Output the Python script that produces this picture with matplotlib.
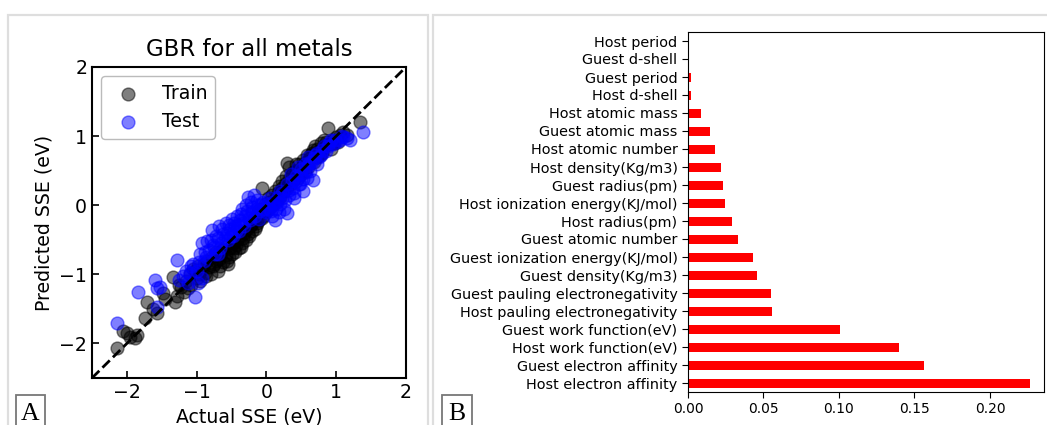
import matplotlib
matplotlib.use("Agg")
import matplotlib.pyplot as plt
from matplotlib.patches import Rectangle

# ---- panel A data: actual vs predicted SSE (eV) ----
train_x = [-2.14, -2.05, -2.00, -1.95, -1.88, -1.85, -1.74, -1.71, -1.62, -1.57,
           -1.48, -1.45, -1.34, -1.31, -1.28, -1.22, -1.18, -1.15, -1.10, -1.08,
           -1.02, -1.00, -0.98, -0.95, -0.92, -0.88, -0.85, -0.82, -0.80, -0.78,
           -0.75, -0.72, -0.70, -0.68, -0.65, -0.62, -0.60, -0.58, -0.55, -0.52,
           -0.50, -0.48, -0.45, -0.42, -0.40, -0.38, -0.35, -0.32, -0.30, -0.28,
           -0.25, -0.22, -0.20, -0.18, -0.15, -0.12, -0.10, -0.08, -0.06, -0.05,
           -0.02, 0.00, 0.02, 0.05, 0.08, 0.10, 0.12, 0.15, 0.18, 0.20,
           0.22, 0.25, 0.28, 0.29, 0.30, 0.32, 0.35, 0.38, 0.40, 0.42,
           0.45, 0.48, 0.50, 0.52, 0.55, 0.58, 0.60, 0.62, 0.65, 0.68,
           0.70, 0.72, 0.75, 0.78, 0.80, 0.82, 0.85, 0.88, 0.90, 0.95,
           1.00, 1.05, 1.10, 1.34,
           -1.25, -1.12, -1.05, -0.97, -0.90, -0.86, -0.77, -0.73, -0.66, -0.63,
           -0.57, -0.53, -0.47, -0.44, -0.37, -0.33, -0.27, -0.24, -0.17, -0.13,
           -0.07, -0.03, 0.03, 0.07, 0.13, 0.17, 0.23, 0.27, 0.33, 0.37,
           0.43, 0.47, 0.53, 0.57, 0.63, 0.67, 0.73, 0.77, 0.83, 0.92,
           0.97, 1.02, 1.15]
train_y = [-2.07, -1.82, -1.85, -1.90, -1.92, -1.88, -1.63, -1.40, -1.50, -1.56,
           -1.27, -1.35, -1.04, -1.40, -1.32, -1.18, -1.25, -1.10, -1.00, -1.15,
           -0.95, -1.05, -0.88, -1.10, -0.92, -0.98, -0.80, -0.90, -1.00, -0.75,
           -0.85, -0.68, -0.95, -0.78, -0.70, -0.82, -0.60, -0.72, -0.85, -0.62,
           -0.70, -0.55, -0.68, -0.50, -0.62, -0.45, -0.55, -0.40, -0.50, -0.35,
           -0.45, -0.28, -0.38, -0.20, -0.30, -0.10, -0.22, -0.05, 0.25, -0.15,
           0.02, -0.08, 0.10, -0.02, 0.15, 0.05, 0.20, 0.08, 0.28, 0.12,
           0.35, 0.20, 0.42, 0.61, 0.25, 0.55, 0.30, 0.48, 0.38, 0.60,
           0.40, 0.52, 0.45, 0.65, 0.50, 0.72, 0.55, 0.68, 0.75, 0.62,
           0.85, 0.70, 0.78, 0.90, 0.75, 0.85, 0.92, 1.12, 0.88, 0.95,
           0.98, 1.02, 1.06, 1.20,
           -1.15, -1.20, -0.92, -1.00, -0.85, -1.02, -0.88, -0.80, -0.88, -0.65,
           -0.80, -0.75, -0.62, -0.58, -0.60, -0.48, -0.42, -0.30, -0.35, -0.25,
           -0.18, -0.10, 0.05, 0.00, 0.10, 0.18, 0.25, 0.30, 0.38, 0.45,
           0.50, 0.60, 0.58, 0.62, 0.72, 0.80, 0.82, 0.72, 0.95, 0.82,
           0.90, 0.92, 1.02]

test_x = [-2.14, -1.84, -1.60, -1.57, -1.52, -1.57, -1.28, -1.25, -1.20, -1.15,
          -1.12, -1.05, -1.02, -0.98, -0.95, -0.92, -0.90, -0.85, -0.82, -0.78,
          -0.75, -0.72, -0.70, -0.68, -0.65, -0.62, -0.58, -0.55, -0.52, -0.50,
          -0.48, -0.45, -0.42, -0.40, -0.38, -0.35, -0.32, -0.30, -0.27, -0.25,
          -0.22, -0.20, -0.18, -0.15, -0.12, -0.10, -0.05, 0.00, 0.03, 0.05,
          0.08, 0.10, 0.12, 0.15, 0.18, 0.20, 0.22, 0.25, 0.29, 0.30,
          0.32, 0.35, 0.38, 0.40, 0.42, 0.45, 0.48, 0.50, 0.52, 0.55,
          0.58, 0.60, 0.62, 0.65, 0.67, 0.70, 0.72, 0.75, 0.80, 0.85,
          0.90, 0.95, 1.00, 1.05, 1.10, 1.15, 1.20, 1.38,
          -1.10, -1.08, -1.00, -0.96, -0.93, -0.88, -0.86, -0.80, -0.77, -0.74,
          -0.69, -0.66, -0.63, -0.60, -0.57, -0.54, -0.51, -0.47, -0.44, -0.41,
          -0.37, -0.34, -0.31, -0.28, -0.24, -0.21, -0.17, -0.14, -0.11, -0.08,
          -0.03, 0.02, 0.06, 0.09, 0.13, 0.16, 0.19, 0.23, 0.26, 0.33,
          0.36, 0.39, 0.43, 0.46, 0.49, 0.53, 0.56, 0.59, 0.63, 0.68,
          0.73, 0.78, 0.82, 0.88, 0.93, 0.98, 1.08]
test_y = [-1.70, -1.26, -1.08, -1.20, -1.18, -1.47, -0.79, -1.08, -1.02, -0.95,
          -1.12, -0.85, -1.33, -1.12, -0.70, -0.55, -0.80, -0.52, -0.65, -0.36,
          -0.60, -0.45, -0.70, -0.30, -0.55, -0.42, -0.25, -0.50, -0.35, -0.20,
          -0.45, -0.30, -0.15, -0.38, -0.22, -0.05, -0.30, 0.00, 0.12, -0.18,
          0.05, -0.10, 0.15, -0.05, 0.00, -0.20, 0.05, -0.10, -0.05, 0.10,
          -0.15, 0.00, -0.22, 0.05, -0.10, 0.20, 0.10, -0.05, -0.11, 0.30,
          0.15, 0.45, 0.25, 0.10, 0.35, 0.55, 0.30, 0.45, 0.20, 0.60,
          0.40, 0.70, 0.50, 0.62, 0.37, 0.72, 0.60, 0.70, 0.80, 0.78,
          0.90, 0.88, 0.92, 0.95, 0.98, 0.97, 0.95, 1.06,
          -0.98, -0.88, -0.95, -0.82, -1.05, -0.68, -0.75, -0.50, -0.58, -0.70,
          -0.48, -0.62, -0.35, -0.48, -0.40, -0.28, -0.45, -0.25, -0.38, -0.28,
          -0.12, -0.25, -0.15, -0.08, -0.22, -0.02, -0.15, 0.08, -0.08, 0.02,
          -0.05, 0.02, -0.08, 0.05, -0.05, 0.12, 0.02, 0.18, 0.08, 0.22,
          0.35, 0.18, 0.42, 0.30, 0.52, 0.38, 0.48, 0.58, 0.62, 0.68,
          0.75, 0.72, 0.85, 0.85, 0.95, 0.95, 1.00]

# ---- panel B data: feature importances (bottom to top) ----
features = ["Host electron affinity", "Guest electron affinity",
            "Host work function(eV)", "Guest work function(eV)",
            "Host pauling electronegativity", "Guest pauling electronegativity",
            "Guest density(Kg/m3)", "Guest ionization energy(KJ/mol)",
            "Guest atomic number", "Host radius(pm)",
            "Host ionization energy(KJ/mol)", "Guest radius(pm)",
            "Host density(Kg/m3)", "Host atomic number", "Guest atomic mass",
            "Host atomic mass", "Host d-shell", "Guest period",
            "Guest d-shell", "Host period"]
importance = [0.2263, 0.1561, 0.1395, 0.1008, 0.0555, 0.0547, 0.0455, 0.0429,
              0.0329, 0.0289, 0.0245, 0.0229, 0.0216, 0.0179, 0.0147, 0.0089,
              0.0018, 0.0018, 0.0005, 0.0]

W, H = 1047, 425
plt.rcParams["font.family"] = "DejaVu Sans"
plt.rcParams["font.size"] = 13.6

fig = plt.figure(figsize=(W / 100, H / 100), dpi=100)


def px_box(left, top, right, bottom):
    # pixel box -> [left, bottom, width, height] in figure fraction
    return [left / W, 1 - bottom / H, (right - left) / W, (bottom - top) / H]


# light grey panel frames
for l, t, r, b in [(8, 15, 428, 445), (433, 15, 1052, 445)]:
    fig.patches.append(Rectangle((l / W, 1 - b / H), (r - l) / W, (b - t) / H,
                                 transform=fig.transFigure, fill=False,
                                 edgecolor="#dedede", linewidth=1.6))

# ---- panel A ----
ax1 = fig.add_axes(px_box(92, 67, 406, 378))
ax1.scatter(train_x, train_y, s=85, c="black", alpha=0.5, linewidths=1, label="Train")
ax1.scatter(test_x, test_y, s=85, c="blue", alpha=0.5, linewidths=1, label="Test")
ax1.plot([-2.5, 2], [-2.5, 2], "k--", lw=2, zorder=3)
ax1.set_xlim(-2.5, 2)
ax1.set_ylim(-2.5, 2)
ax1.set_xticks([-2, -1, 0, 1, 2])
ax1.set_yticks([-2, -1, 0, 1, 2])
ax1.tick_params(direction="in", length=5, width=1.2)
for sp in ax1.spines.values():
    sp.set_linewidth(1.5)
ax1.set_title("GBR for all metals", fontsize=16.5, pad=8)
ax1.set_xlabel("Actual SSE (eV)")
ax1.set_ylabel("Predicted SSE (eV)")
ax1.legend(loc="upper left", scatterpoints=1, edgecolor="#aaaaaa")

# ---- panel B ----
ax2 = fig.add_axes(px_box(688, 32, 1044, 392))
ax2.barh(range(len(features)), importance, height=0.5, color="red")
ax2.set_yticks(range(len(features)))
ax2.set_yticklabels(features, fontsize=10.4)
ax2.set_ylim(-0.5, len(features) - 0.5)
ax2.set_xlim(0, 0.2358)
ax2.set_xticks([0.0, 0.05, 0.10, 0.15, 0.20])
ax2.set_xticklabels(["0.00", "0.05", "0.10", "0.15", "0.20"], fontsize=10)
ax2.tick_params(length=4)

# panel letters
for letter, l, r in [("A", 16, 45), ("B", 442, 472)]:
    fig.patches.append(Rectangle((l / W, 1 - 440 / H), (r - l) / W, 45 / H,
                                 transform=fig.transFigure, fill=False,
                                 edgecolor="#777777", linewidth=1.3))
    fig.text((l + r) / 2 / W, 0.5 / H, letter, ha="center", va="bottom",
             fontsize=18.5, family="Liberation Serif")

fig.savefig("out.png", dpi=100)
